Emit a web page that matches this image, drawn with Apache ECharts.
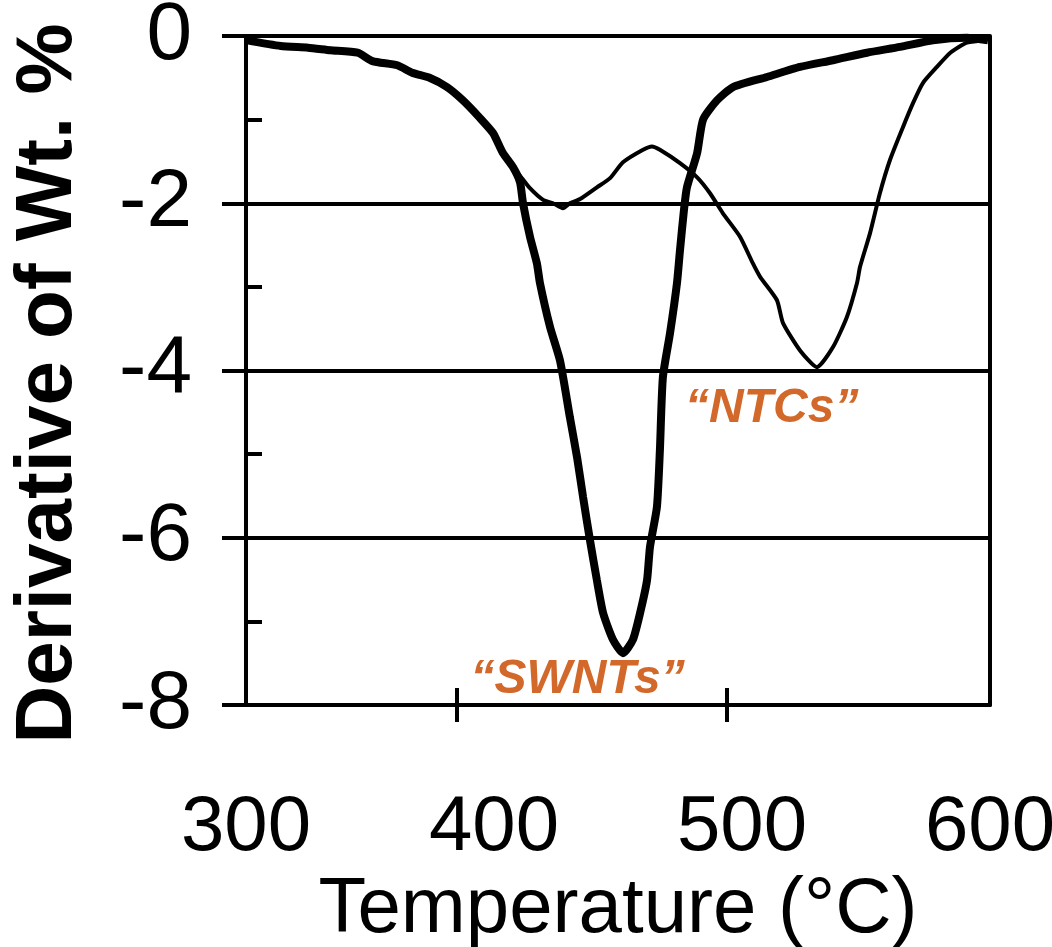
<!DOCTYPE html>
<html>
<head>
<meta charset="utf-8">
<title>Derivative weight loss</title>
<script src="https://cdn.jsdelivr.net/npm/echarts@6/dist/echarts.min.js"></script>
<style>
  html, body { margin: 0; padding: 0; background: #fff; }
  #chart { width: 1052px; height: 947px; }
</style>
</head>
<body>
<div id="chart"></div>
<script>
// thick curve, "SWNTs" (temperature in C, derivative of wt. %)
const swntTemp = [300, 314, 325, 334, 345, 351, 361, 367, 374, 381, 387.5, 394, 399.6, 403.6, 407.7, 410.5,
  411.7, 414.5, 417.3, 418.5, 422.6, 426.6, 430.6, 433.5, 435.9, 438.7, 441.5, 444, 448, 452,
  456, 458.9, 461.7, 462.9, 465.7, 466.9, 468.1, 471, 473.8, 475, 476.6, 477.8, 481.9, 484.3,
  489.9, 496.4, 510.1, 523.4, 536.7, 550.4, 563.7, 577, 590.7, 599.2]
const swntDeriv = [-0.05, -0.12, -0.14, -0.17, -0.2, -0.3, -0.35, -0.44, -0.5, -0.61, -0.77, -0.97, -1.16, -1.4, -1.57, -1.75,
  -2.0, -2.4, -2.72, -2.95, -3.48, -3.88, -4.56, -5.04, -5.51, -6.03, -6.51, -6.9, -7.22, -7.38,
  -7.22, -6.9, -6.51, -6.11, -5.63, -4.95, -4.08, -3.55, -2.95, -2.56, -2.08, -1.81, -1.4, -1.0,
  -0.77, -0.61, -0.49, -0.37, -0.29, -0.2, -0.13, -0.05, -0.02, -0.05]

// thin curve, "NTCs"
const ntcTemp = [300, 314, 325, 334, 345, 351, 361, 367, 374, 381, 387.5, 394, 399.6, 403.6, 407.7, 410.5,
  414.5, 419.8, 423.8, 427.8, 430.6, 434.7, 441.5, 446.8, 452, 460.1, 463.7, 466.9, 475, 481.9,
  487.1, 492.3, 499.2, 504.4, 507.3, 514.1, 516.5, 523.4, 530.2, 536.7, 542.3, 546.4, 547.6,
  551.6, 555.6, 559.7, 564.9, 569, 573, 578.6, 584, 590.7, 598.8]
const ntcDeriv = [-0.05, -0.12, -0.14, -0.17, -0.2, -0.3, -0.35, -0.44, -0.5, -0.61, -0.77, -0.97, -1.16, -1.4, -1.57, -1.67,
  -1.82, -1.96, -2.0, -2.06, -2.0, -1.95, -1.81, -1.7, -1.51, -1.36, -1.32, -1.36, -1.52, -1.69,
  -1.88, -2.12, -2.4, -2.72, -2.88, -3.16, -3.43, -3.76, -3.96, -3.72, -3.36, -2.95, -2.76,
  -2.36, -1.88, -1.48, -1.09, -0.8, -0.56, -0.37, -0.2, -0.08, -0.05]

// x-axis tick marks as printed in the figure
const xTickMarks = [385, 494]

// curve labels: [text, temperature, derivative]
const curveLabels = [
  ['\u201cNTCs\u201d', 512, -4.46],
  ['\u201cSWNTs\u201d', 433.7, -7.7]
]

const FONT = "'Liberation Sans', Arial, sans-serif"
const LABEL_COLOR = '#d2692a'

function zip(xs, ys) {
  return xs.map((x, i) => [x, ys[i]])
}

const chart = echarts.init(document.getElementById('chart'))
const gridBox = { left: 246, right: 62, top: 36, bottom: 242, containLabel: false, outerBoundsMode: 'none' }
const blackLine = { color: '#000', width: 4 }

chart.setOption({
  animation: false,
  backgroundColor: '#fff',
  grid: [
    Object.assign({}, gridBox),
    Object.assign({}, gridBox)
  ],
  xAxis: [{
    type: 'value',
    gridIndex: 0,
    position: 'bottom',
    min: 300,
    max: 600,
    interval: 100,
    name: 'Temperature (\u00b0C)',
    nameLocation: 'middle',
    nameGap: 138,
    nameTextStyle: { fontFamily: FONT, fontSize: 78, color: '#000' },
    axisLine: { onZero: false, lineStyle: blackLine },
    axisTick: { show: true, length: 17, lineStyle: blackLine, customValues: xTickMarks },
    axisLabel: { fontFamily: FONT, fontSize: 78, color: '#000', margin: 84 },
    splitLine: { show: false }
  }, {
    // inner half of the x ticks
    type: 'value',
    gridIndex: 1,
    position: 'bottom',
    min: 300,
    max: 600,
    interval: 100,
    axisLine: { show: false, onZero: false },
    axisTick: { show: true, inside: true, length: 17, lineStyle: blackLine, customValues: xTickMarks },
    axisLabel: { show: false },
    splitLine: { show: false }
  }],
  yAxis: [{
    type: 'value',
    gridIndex: 0,
    position: 'left',
    min: -8,
    max: 0,
    interval: 2,
    name: 'Derivative of Wt. %',
    nameLocation: 'middle',
    nameGap: 157,
    nameTextStyle: { fontFamily: FONT, fontWeight: 'bold', fontSize: 80, color: '#000', padding: [0, 26, 0, 0] },
    axisLine: { show: true, onZero: false, lineStyle: blackLine },
    axisTick: { show: true, length: 24, lineStyle: blackLine },
    axisLabel: { fontFamily: FONT, fontSize: 82, color: '#000', margin: 54 },
    splitLine: { show: true, lineStyle: blackLine }
  }, {
    // right frame
    type: 'value',
    gridIndex: 0,
    position: 'right',
    min: -8,
    max: 0,
    interval: 2,
    axisLine: { show: true, onZero: false, lineStyle: blackLine },
    axisTick: { show: false },
    axisLabel: { show: false },
    splitLine: { show: false }
  }, {
    // short inner ticks on the left
    type: 'value',
    gridIndex: 1,
    position: 'left',
    min: -8,
    max: 0,
    interval: 1,
    axisLine: { show: false, onZero: false },
    axisTick: { show: true, inside: true, length: 16, lineStyle: blackLine },
    axisLabel: { show: false },
    splitLine: { show: false }
  }],
  series: [{
    name: 'NTCs',
    type: 'line',
    xAxisIndex: 0,
    yAxisIndex: 0,
    data: zip(ntcTemp, ntcDeriv),
    showSymbol: false,
    smooth: 0.2,
    lineStyle: { color: '#000', width: 4 },
    markPoint: {
      symbol: 'rect',
      symbolSize: 0,
      label: {
        show: true,
        position: 'inside',
        color: LABEL_COLOR,
        fontFamily: FONT,
        fontWeight: 'bold',
        fontStyle: 'italic',
        fontSize: 48,
        formatter: p => p.name
      },
      data: curveLabels.map(l => ({ name: l[0], coord: [l[1], l[2]] }))
    }
  }, {
    name: 'SWNTs',
    type: 'line',
    xAxisIndex: 0,
    yAxisIndex: 0,
    data: zip(swntTemp, swntDeriv),
    showSymbol: false,
    smooth: 0.2,
    lineStyle: { color: '#000', width: 8 }
  }]
})
</script>
</body>
</html>
